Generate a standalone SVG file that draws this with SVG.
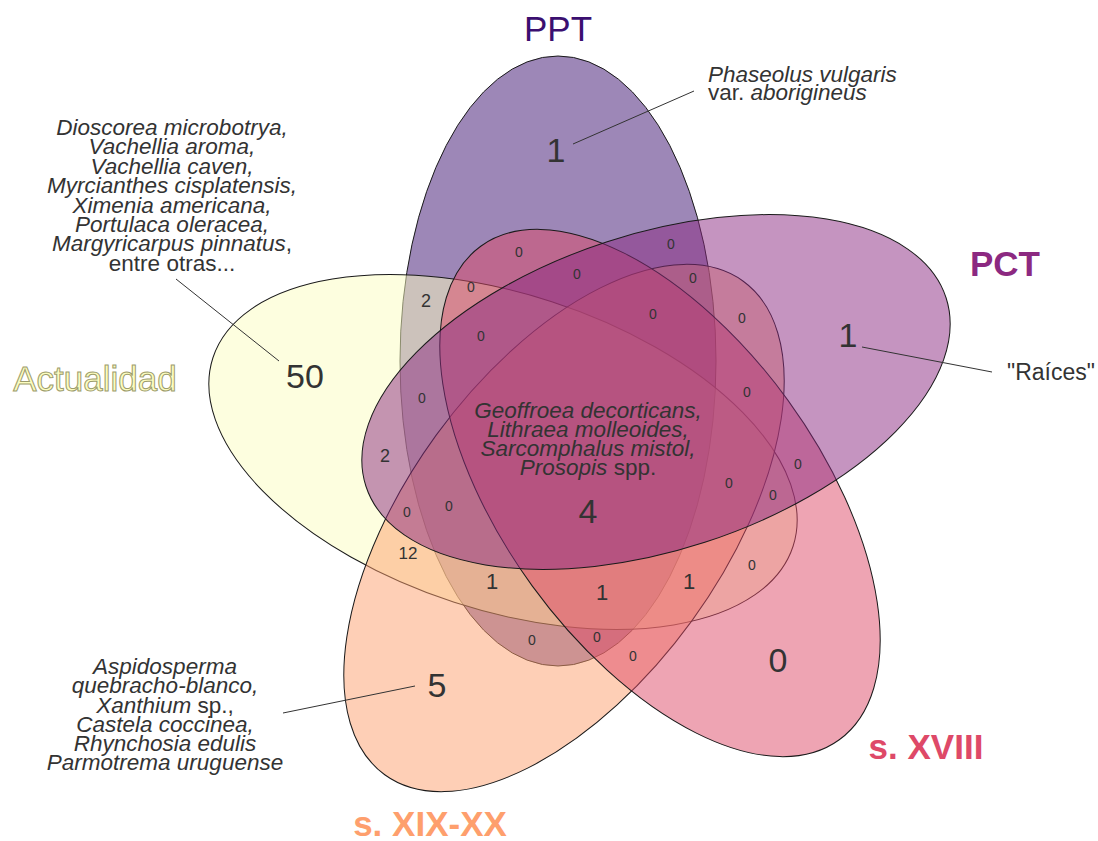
<svg xmlns="http://www.w3.org/2000/svg" width="1098" height="841" viewBox="0 0 1098 841">
<style>
.set{stroke:#1a1a1a;stroke-width:1;fill-opacity:0.5}
.t{font-family:"Liberation Sans",Arial,sans-serif;fill:#333;text-anchor:middle}
.sp{font-size:22.5px;font-style:italic}
.n{font-style:normal}
.big{font-size:34px}
.mid{font-size:22px}
.sm{font-size:14px}
.lab{font-family:"Liberation Sans",Arial,sans-serif;font-size:35px;text-anchor:middle}
.lead{stroke:#333;stroke-width:1;fill:none}
</style>
<rect width="1098" height="841" fill="#fff"/>
<g id="PPT"><ellipse class="set" cx="558" cy="361" rx="305" ry="158" transform="rotate(-90 558 361)" fill="#3B0F70"/></g>
<g id="Actualidad"><ellipse class="set" cx="503" cy="452" rx="305" ry="158" transform="rotate(18 503 452)" fill="#FCFDBF"/></g>
<g id="sXIX-XX"><ellipse class="set" cx="564" cy="528" rx="305" ry="158" transform="rotate(-54 564 528)" fill="#FE9F6D"/></g>
<g id="sXVIII"><ellipse class="set" cx="660" cy="493" rx="305" ry="158" transform="rotate(54 660 493)" fill="#DE4968"/></g>
<g id="PCT"><ellipse class="set" cx="656" cy="392" rx="305" ry="158" transform="rotate(-18 656 392)" fill="#8C2981"/></g>

<g id="connectors">
<line class="lead" x1="176" y1="279" x2="279" y2="361"/>
<line class="lead" x1="573" y1="144" x2="694" y2="91"/>
<line class="lead" x1="862" y1="347" x2="992" y2="372"/>
<line class="lead" x1="283" y1="713" x2="415" y2="686"/>
</g>

<g id="set-labels">
<text class="lab" x="558" y="41" fill="#3B0F70">PPT</text>
<text class="lab" x="1005" y="276" fill="#8C2981" font-weight="bold">PCT</text>
<text class="lab" x="926" y="759" fill="#DE4968" font-weight="bold">s. XVIII</text>
<text class="lab" x="430" y="836" fill="#FE9F6D" font-weight="bold">s. XIX-XX</text>
<text class="lab" x="95" y="391" fill="#FCFDBF" stroke="#9c9c6c" stroke-width="1" font-size="34">Actualidad</text>
</g>

<g id="species-actualidad" class="t sp">
<text x="172" y="135">Dioscorea microbotrya,</text>
<text x="172" y="154.4">Vachellia aroma,</text>
<text x="172" y="173.8">Vachellia caven,</text>
<text x="172" y="193.2">Myrcianthes cisplatensis,</text>
<text x="172" y="212.6">Ximenia americana,</text>
<text x="172" y="232">Portulaca oleracea,</text>
<text x="172" y="251.4">Margyricarpus pinnatus<tspan class="n">,</tspan></text>
<text x="172" y="270.8" class="n">entre otras...</text>
</g>

<g id="species-ppt" class="t sp">
<text x="708" y="82" style="text-anchor:start">Phaseolus vulgaris</text>
<text x="708" y="100" style="text-anchor:start"><tspan class="n">var. </tspan>aborigineus</text>
</g>

<g id="species-pct"><text class="t" x="1051" y="380" font-size="23">"Raíces"</text></g>

<g id="species-xix" class="t sp">
<text x="165" y="674">Aspidosperma</text>
<text x="165" y="693">quebracho-blanco,</text>
<text x="165" y="713">Xanthium<tspan class="n"> sp.,</tspan></text>
<text x="165" y="732">Castela coccinea,</text>
<text x="165" y="751">Rhynchosia edulis</text>
<text x="165" y="770">Parmotrema uruguense</text>
</g>

<g id="species-center" class="t sp">
<text x="588" y="418">Geoffroea decorticans,</text>
<text x="588" y="437">Lithraea molleoides,</text>
<text x="588" y="456">Sarcomphalus mistol,</text>
<text x="588" y="475">Prosopis<tspan class="n"> spp.</tspan></text>
</g>

<g id="counts" class="t">
<text class="big" x="556" y="162">1</text>
<text class="big" x="848" y="347">1</text>
<text class="big" x="305" y="388">50</text>
<text class="big" x="437" y="697">5</text>
<text class="big" x="778" y="672">0</text>
<text class="big" x="588" y="523">4</text>
<text class="mid" x="492" y="589">1</text>
<text class="mid" x="602" y="600">1</text>
<text class="mid" x="689" y="589">1</text>
<text x="426" y="307" font-size="18">2</text>
<text x="385" y="462" font-size="18">2</text>
<text x="408" y="559" font-size="17">12</text>
<text class="sm" x="519" y="257">0</text>
<text class="sm" x="671" y="249">0</text>
<text class="sm" x="577" y="279">0</text>
<text class="sm" x="471" y="292">0</text>
<text class="sm" x="693" y="283">0</text>
<text class="sm" x="653" y="319">0</text>
<text class="sm" x="742" y="323">0</text>
<text class="sm" x="481" y="341">0</text>
<text class="sm" x="422" y="403">0</text>
<text class="sm" x="747" y="397">0</text>
<text class="sm" x="798" y="469">0</text>
<text class="sm" x="407" y="517">0</text>
<text class="sm" x="449" y="511">0</text>
<text class="sm" x="729" y="488">0</text>
<text class="sm" x="773" y="500">0</text>
<text class="sm" x="752" y="570">0</text>
<text class="sm" x="532" y="645">0</text>
<text class="sm" x="597" y="642">0</text>
<text class="sm" x="633" y="661">0</text>
</g>
</svg>
